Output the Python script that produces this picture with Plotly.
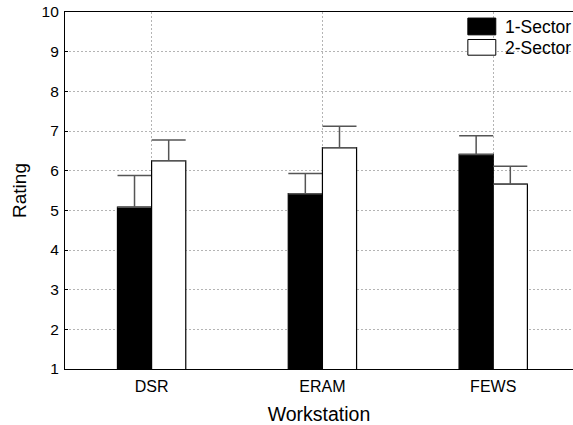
import plotly.graph_objects as go

categories = ["DSR", "ERAM", "FEWS"]
series_names = ["1-Sector", "2-Sector"]
one_sector = [5.08, 5.42, 6.41]
one_sector_err = [0.80, 0.51, 0.47]
two_sector = [6.25, 6.58, 5.66]
two_sector_err = [0.52, 0.54, 0.45]
y_ticks = [1, 2, 3, 4, 5, 6, 7, 8, 9, 10]

x_idx = list(range(len(categories)))
font_family = "Liberation Sans, Arial, Helvetica, sans-serif"
fills = ["black", "white"]

fig = go.Figure()
for name, vals, errs, offset, fill in [
    (series_names[0], one_sector, one_sector_err, -0.1, fills[0]),
    (series_names[1], two_sector, two_sector_err, 0.1, fills[1]),
]:
    fig.add_trace(go.Bar(
        x=[i + offset for i in x_idx], y=vals, width=0.2, name=name,
        marker=dict(color=fill, line=dict(color="black", width=1.2)),
        error_y=dict(type="data", array=errs, arrayminus=[0] * len(errs), symmetric=False,
                     color="#555555", thickness=1.5, width=17),
        showlegend=False, hoverinfo="skip",
    ))

# legend drawn as swatches + real text, placed in paper coordinates
legend_rows = [(0.983, 0.936, 0.958), (0.923, 0.879, 0.900)]
for (y1, y0, ym), name, fill in zip(legend_rows, series_names, fills):
    fig.add_shape(type="rect", xref="paper", yref="paper", x0=0.793, x1=0.848,
                  y0=y0, y1=y1, fillcolor=fill, line=dict(color="black", width=1))
    fig.add_annotation(xref="paper", yref="paper", x=0.862, y=ym, text=name,
                       showarrow=False, xanchor="left", yanchor="middle",
                       font=dict(size=17.5, color="black"))

grid_dash = "2px,2px"
fig.update_layout(
    width=573, height=425,
    margin=dict(l=65, r=0, t=12, b=56),
    paper_bgcolor="white", plot_bgcolor="white",
    font=dict(family=font_family, size=16, color="black"),
    barmode="overlay",
    showlegend=False,
    xaxis=dict(
        range=[-0.507, 2.467], tickmode="array", tickvals=x_idx, ticktext=categories,
        showgrid=True, gridcolor="#b4b4b4", griddash=grid_dash, gridwidth=1,
        showline=True, linecolor="black", linewidth=1.2, mirror=True,
        ticks="", zeroline=False, ticklabelstandoff=3,
        title=dict(text="Workstation", font=dict(size=19.5), standoff=13),
        tickfont=dict(size=16),
    ),
    yaxis=dict(
        range=[1, 10], tickmode="array", tickvals=y_ticks,
        showgrid=True, gridcolor="#b4b4b4", griddash=grid_dash, gridwidth=1,
        showline=True, linecolor="black", linewidth=1.2, mirror=True,
        ticks="inside", ticklen=3, tickcolor="black", zeroline=False,
        ticklabeloverflow="allow", ticklabelstandoff=2,
        title=dict(text="Rating", font=dict(size=19), standoff=9),
        tickfont=dict(size=15.5),
    ),
)

fig.write_html("out.html", config={"displayModeBar": False},
               post_script="document.body.style.margin='0';")
